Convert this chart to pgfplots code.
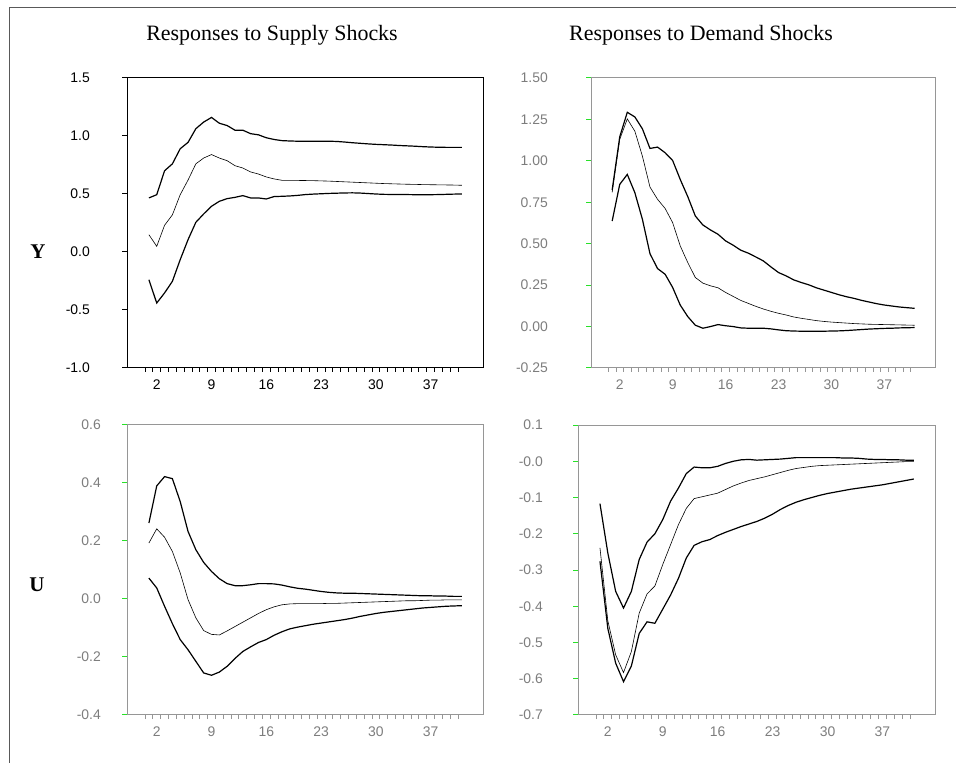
\documentclass[border=0pt]{standalone}
\usepackage{fontspec}
\setmainfont{Liberation Serif}
\setsansfont{Liberation Sans}
\usepackage{pgfplots}
\usepackage{pgfplotstable}
\pgfplotsset{compat=1.18}
\definecolor{tickgreen}{RGB}{40,225,40}
\definecolor{axgray}{RGB}{150,150,150}
\definecolor{lblgray}{RGB}{125,125,125}

\pgfplotstableread{
k up mid lo
1 0.466 0.149 -0.239
2 0.494 0.049 -0.44
3 0.70 0.23 -0.353
4 0.76 0.32 -0.253
5 0.89 0.494 -0.066
6 0.945 0.62 0.106
7 1.063 0.76 0.256
8 1.12 0.81 0.328
9 1.16 0.84 0.394
10 1.11 0.81 0.437
11 1.09 0.787 0.46
12 1.05 0.744 0.471
13 1.05 0.724 0.486
14 1.02 0.69 0.466
15 1.01 0.672 0.466
16 0.985 0.647 0.457
17 0.97 0.63 0.478
18 0.96 0.618 0.48
19 0.957 0.617 0.483
20 0.955 0.617 0.488
21 0.955 0.616 0.495
22 0.955 0.615 0.499
23 0.955 0.613 0.502
24 0.955 0.611 0.505
25 0.953 0.608 0.507
26 0.948 0.605 0.509
27 0.942 0.602 0.51
28 0.937 0.599 0.508
29 0.932 0.596 0.504
30 0.928 0.593 0.5
31 0.925 0.59 0.497
32 0.922 0.588 0.496
33 0.918 0.586 0.495
34 0.915 0.584 0.495
35 0.912 0.583 0.494
36 0.908 0.581 0.494
37 0.905 0.58 0.494
38 0.903 0.579 0.495
39 0.902 0.578 0.497
40 0.902 0.577 0.499
41 0.902 0.575 0.5
}\tableYS

\pgfplotstableread{
k up mid lo
1 0.824 0.81 0.637
2 1.145 1.13 0.858
3 1.293 1.253 0.918
4 1.265 1.179 0.808
5 1.193 1.028 0.647
6 1.075 0.842 0.44
7 1.083 0.768 0.35
8 1.049 0.713 0.316
9 1.002 0.627 0.236
10 0.888 0.487 0.13
11 0.784 0.386 0.06
12 0.667 0.296 0.008
13 0.613 0.262 -0.01
14 0.583 0.246 0.0
15 0.557 0.234 0.012
16 0.517 0.206 0.005
17 0.491 0.182 0.0
18 0.461 0.158 -0.008
19 0.443 0.14 -0.01
20 0.42 0.122 -0.01
21 0.396 0.106 -0.01
22 0.36 0.092 -0.014
23 0.326 0.08 -0.02
24 0.306 0.07 -0.025
25 0.282 0.058 -0.027
26 0.266 0.05 -0.028
27 0.252 0.043 -0.028
28 0.234 0.036 -0.028
29 0.22 0.031 -0.028
30 0.206 0.027 -0.027
31 0.192 0.024 -0.026
32 0.18 0.021 -0.024
33 0.17 0.018 -0.021
34 0.158 0.016 -0.018
35 0.148 0.014 -0.015
36 0.138 0.013 -0.013
37 0.13 0.012 -0.011
38 0.124 0.011 -0.01
39 0.118 0.01 -0.008
40 0.114 0.009 -0.007
41 0.11 0.008 -0.006
}\tableYD

\pgfplotstableread{
k up mid lo
1 0.262 0.193 0.072
2 0.39 0.242 0.038
3 0.422 0.213 -0.025
4 0.415 0.164 -0.085
5 0.336 0.09 -0.14
6 0.233 -0.002 -0.175
7 0.17 -0.065 -0.215
8 0.126 -0.109 -0.255
9 0.095 -0.122 -0.263
10 0.07 -0.124 -0.252
11 0.053 -0.11 -0.232
12 0.046 -0.095 -0.205
13 0.046 -0.08 -0.181
14 0.049 -0.065 -0.165
15 0.053 -0.05 -0.15
16 0.053 -0.037 -0.14
17 0.052 -0.027 -0.125
18 0.048 -0.02 -0.113
19 0.042 -0.017 -0.103
20 0.037 -0.016 -0.097
21 0.034 -0.016 -0.092
22 0.03 -0.016 -0.087
23 0.026 -0.016 -0.083
24 0.023 -0.015 -0.079
25 0.021 -0.015 -0.075
26 0.02 -0.014 -0.071
27 0.02 -0.013 -0.066
28 0.019 -0.012 -0.06
29 0.018 -0.011 -0.055
30 0.017 -0.01 -0.05
31 0.016 -0.009 -0.046
32 0.015 -0.008 -0.043
33 0.014 -0.007 -0.04
34 0.013 -0.006 -0.037
35 0.012 -0.006 -0.034
36 0.011 -0.005 -0.031
37 0.011 -0.004 -0.029
38 0.01 -0.004 -0.027
39 0.01 -0.003 -0.025
40 0.009 -0.003 -0.024
41 0.009 -0.003 -0.023
}\tableUS

\pgfplotstableread{
k up mid lo
1 -0.117 -0.239 -0.276
2 -0.253 -0.44 -0.461
3 -0.359 -0.534 -0.557
4 -0.405 -0.583 -0.608
5 -0.359 -0.525 -0.565
6 -0.271 -0.419 -0.475
7 -0.223 -0.366 -0.443
8 -0.2 -0.344 -0.447
9 -0.161 -0.285 -0.408
10 -0.11 -0.23 -0.369
11 -0.074 -0.175 -0.323
12 -0.034 -0.13 -0.267
13 -0.016 -0.103 -0.232
14 -0.018 -0.098 -0.222
15 -0.018 -0.093 -0.216
16 -0.014 -0.088 -0.205
17 -0.006 -0.078 -0.196
18 0.0 -0.068 -0.188
19 0.004 -0.06 -0.18
20 0.005 -0.053 -0.173
21 0.003 -0.048 -0.166
22 0.004 -0.043 -0.157
23 0.005 -0.037 -0.146
24 0.006 -0.031 -0.133
25 0.008 -0.025 -0.122
26 0.01 -0.02 -0.113
27 0.01 -0.017 -0.106
28 0.01 -0.014 -0.1
29 0.01 -0.012 -0.094
30 0.01 -0.011 -0.089
31 0.01 -0.01 -0.085
32 0.009 -0.009 -0.081
33 0.009 -0.008 -0.077
34 0.008 -0.007 -0.074
35 0.006 -0.006 -0.071
36 0.005 -0.005 -0.068
37 0.005 -0.004 -0.065
38 0.004 -0.003 -0.061
39 0.004 -0.002 -0.057
40 0.003 -0.001 -0.053
41 0.003 -0.001 -0.049
}\tableUD

\pgfplotsset{
  irf/.style={
    scale only axis, height=290bp,
    xmin=-1.8, xmax=43.7,
    xtick={2,9,16,23,30,37},
    xticklabels={2,9,16,23,30,37},
    minor xtick={0.5,1.5,...,40.5},
    tick align=outside,
    xtick pos=left, ytick pos=left,
    major tick length=5bp, minor tick length=4bp,
    major x tick style={draw=none},
    tick label style={font=\sffamily\fontsize{14}{14}\selectfont, inner sep=0pt},
    xticklabel shift=7bp,
    axis line style={axgray, line width=1bp},
    minor x tick style={axgray, line width=0.8bp},
    ytick style={tickgreen, line width=1bp},
    every tick label/.append style={text=lblgray},
  },
  band/.style={black, line width=1.2bp, no marks},
  mid/.style={black, line width=0.6bp, no marks},
}

\begin{document}
\begin{tikzpicture}
\useasboundingbox (0,0) rectangle (956bp,763bp);
\draw[gray!70!black, line width=1bp] (9bp,0) -- (9bp,755bp) -- (956bp,755bp);

\node[font=\fontsize{22}{22}\selectfont, anchor=base] at (272bp,722bp) {Responses to Supply Shocks};
\node[font=\fontsize{22}{22}\selectfont, anchor=base] at (701bp,722bp) {Responses to Demand Shocks};
\node[font=\bfseries\fontsize{21}{21}\selectfont] at (38bp,511bp) {Y};
\node[font=\bfseries\fontsize{21}{21}\selectfont] at (37bp,178bp) {U};

% top-left
\begin{axis}[irf, at={(127bp,395bp)}, anchor=south west, width=356bp,
  ymin=-1, ymax=1.5, ytick={-1,-0.5,0,0.5,1,1.5},
  yticklabels={-1.0,-0.5,0.0,0.5,1.0,1.5},
  yticklabel shift=32bp,
  axis line style={black, line width=1bp},
  minor x tick style={black, line width=0.8bp},
  ytick style={black, line width=1bp},
  every tick label/.append style={text=black}]
\addplot[band] table[x=k,y=up]{\tableYS};
\addplot[mid] table[x=k,y=mid]{\tableYS};
\addplot[band] table[x=k,y=lo]{\tableYS};
\end{axis}

% top-right
\begin{axis}[irf, at={(591bp,395bp)}, anchor=south west, width=344bp,
  ymin=-0.25, ymax=1.5, ytick={-0.25,0,0.25,0.5,0.75,1,1.25,1.5},
  yticklabels={-0.25,0.00,0.25,0.50,0.75,1.00,1.25,1.50},
  yticklabel shift=38bp]
\addplot[band] table[x=k,y=up]{\tableYD};
\addplot[mid] table[x=k,y=mid]{\tableYD};
\addplot[band] table[x=k,y=lo]{\tableYD};
\end{axis}

% bottom-left
\begin{axis}[irf, at={(127bp,48bp)}, anchor=south west, width=356bp,
  ymin=-0.4, ymax=0.6, ytick={-0.4,-0.2,0,0.2,0.4,0.6},
  yticklabels={-0.4,-0.2,0.0,0.2,0.4,0.6},
  yticklabel shift=21bp]
\addplot[band] table[x=k,y=up]{\tableUS};
\addplot[mid] table[x=k,y=mid]{\tableUS};
\addplot[band] table[x=k,y=lo]{\tableUS};
\end{axis}

% bottom-right
\begin{axis}[irf, at={(578bp,48bp)}, anchor=south west, width=357bp,
  ymin=-0.7, ymax=0.1, ytick={-0.7,-0.6,-0.5,-0.4,-0.3,-0.2,-0.1,0,0.1},
  yticklabels={-0.7,-0.6,-0.5,-0.4,-0.3,-0.2,-0.1,-0.0,0.1},
  yticklabel shift=30bp]
\addplot[band] table[x=k,y=up]{\tableUD};
\addplot[mid] table[x=k,y=mid]{\tableUD};
\addplot[band] table[x=k,y=lo]{\tableUD};
\end{axis}
\end{tikzpicture}
\end{document}
